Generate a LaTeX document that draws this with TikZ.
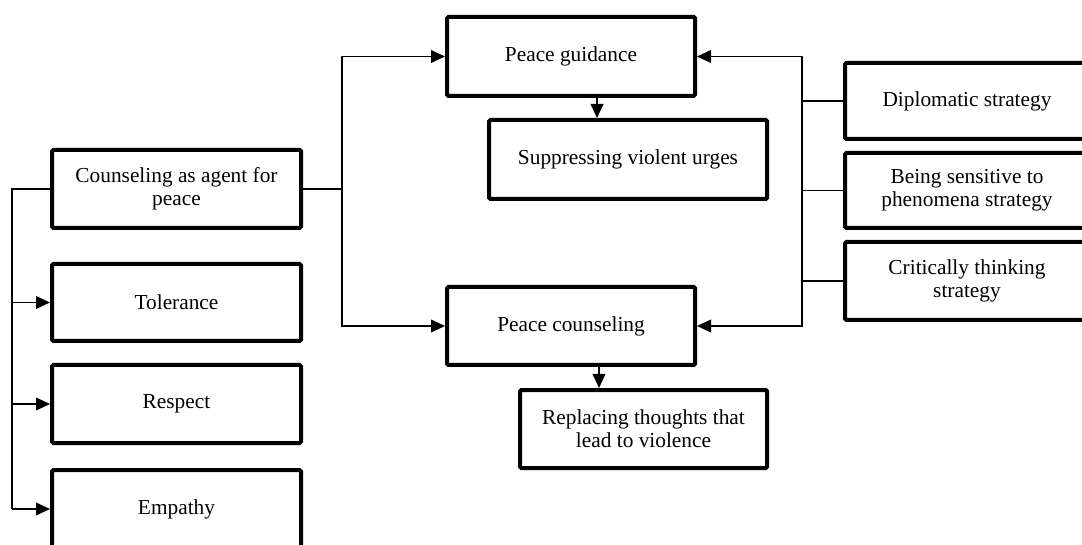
\documentclass[tikz,border=0pt]{standalone}
\usepackage{fontspec}
\setmainfont{Liberation Serif}
\usetikzlibrary{arrows.meta}
\begin{document}
\begin{tikzpicture}[x=0.75pt,y=-0.75pt,
  box/.style={draw=black,line width=3pt,rectangle,rounded corners=1pt,inner sep=0pt,align=center,
    font=\fontsize{16}{17.5}\selectfont},
  link/.style={draw=black,line width=1.3pt},
  arr/.style={link,-{Triangle[length=10.5pt,width=9.5pt]}}]
\useasboundingbox (0,0) rectangle (1082,545);
\begin{scope}
\clip (0,0) rectangle (1082,545);
\node[box,minimum width=249*0.75pt,minimum height=78*0.75pt] (counsel) at (176.5,189) {Counseling as agent for\\peace};
\node[box,minimum width=249*0.75pt,minimum height=77*0.75pt] (tol) at (176.5,302.5) {Tolerance};
\node[box,minimum width=249*0.75pt,minimum height=78*0.75pt] (resp) at (176.5,404) {Respect};
\node[box,minimum width=249*0.75pt,minimum height=78*0.75pt] (emp) at (176.5,509) {Empathy};
\node[box,minimum width=248*0.75pt,minimum height=79*0.75pt] (pg) at (571,56.5) {Peace guidance};
\node[box,minimum width=278*0.75pt,minimum height=79*0.75pt] (sup) at (628,159.5) {Suppressing violent urges};
\node[box,minimum width=248*0.75pt,minimum height=78*0.75pt] (pc) at (571,326) {Peace counseling};
\node[box,minimum width=247*0.75pt,minimum height=78*0.75pt] (rep) at (643.5,429) {Replacing thoughts that\\lead to violence};
\node[box,minimum width=248*0.75pt,minimum height=76*0.75pt] (dip) at (969,101) {};
\node[box,minimum width=248*0.75pt,minimum height=75*0.75pt] (bs) at (969,190.5) {};
\node[box,minimum width=248*0.75pt,minimum height=78*0.75pt] (ct) at (969,281) {};
\end{scope}
\node[font=\fontsize{16}{17.5}\selectfont,align=center] (diptxt) at (967,101) {Diplomatic strategy};
\node[font=\fontsize{16}{17.5}\selectfont,align=center] (bstxt) at (967,190.5) {Being sensitive to\\phenomena strategy};
\node[font=\fontsize{16}{17.5}\selectfont,align=center] (cttxt) at (967,281) {Critically thinking\\strategy};
\coordinate (L) at (12,0);
\coordinate (M) at (342,0);
\coordinate (R) at (802,0);
\coordinate (D1) at (597,0);
\coordinate (D2) at (599,0);
% left branch
\draw[link] (counsel.west) -- (counsel.west -| L) -- (emp.west -| L);
\draw[arr] (tol.west -| L) -- (tol.west);
\draw[arr] (resp.west -| L) -- (resp.west);
\draw[arr] (emp.west -| L) -- (emp.west);
% middle branch
\draw[link] (counsel.east) -- (counsel.east -| M);
\draw[arr] (counsel.east -| M) |- (pg.west);
\draw[arr] (counsel.east -| M) |- (pc.west);
% down arrows
\draw[arr] (pg.south -| D1) -- (sup.north -| D1);
\draw[arr] (pc.south -| D2) -- (rep.north -| D2);
% right branch
\draw[link] (dip.west) -- (dip.west -| R);
\draw[link] (bs.west) -- (bs.west -| R);
\draw[link] (ct.west) -- (ct.west -| R);
\draw[arr] (bs.west -| R) |- (pg.east);
\draw[arr] (bs.west -| R) |- (pc.east);
\end{tikzpicture}
\end{document}
